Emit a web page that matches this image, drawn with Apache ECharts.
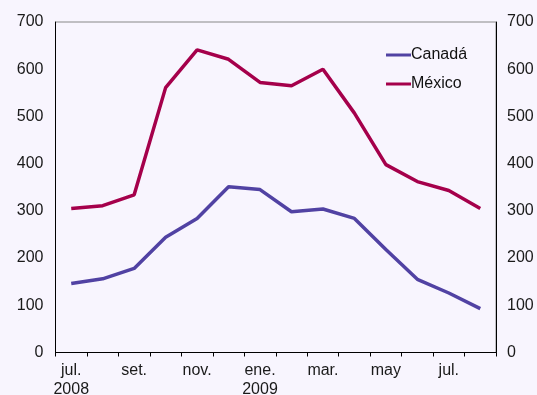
<!DOCTYPE html>
<html><head><meta charset="utf-8">
<script src="https://cdn.jsdelivr.net/npm/echarts@6/dist/echarts.min.js"></script>
<style>html,body{margin:0;padding:0;background:#F8F5FE;}#c{width:537px;height:395px;}</style>
</head><body><div id="c"></div>
<script>
const categories = ['jul.\n2008','ago.','set.','oct.','nov.','dic.','ene.\n2009','feb.','mar.','abr.','may','jun.','jul.','ago.'];
const canada = [146, 156, 178, 244, 284, 351, 345, 298, 304, 284, 218, 155, 126, 93];
const mexico = [305, 311, 334, 561, 641, 621, 572, 565, 600, 507, 398, 362, 343, 305];
const yTicks = [0, 100, 200, 300, 400, 500, 600, 700];

const font = 'Liberation Sans, Arial, sans-serif';
const chart = echarts.init(document.getElementById('c'), null, {renderer:'canvas'});
const yAxisBase = {
  type:'value', min:yTicks[0], max:yTicks[yTicks.length-1], interval:100,
  axisLine:{show:true, lineStyle:{color:'#000', width:1}},
  axisTick:{show:false}, splitLine:{show:false},
  axisLabel:{color:'#1a1a1a', fontSize:16, fontFamily:font}
};
chart.setOption({
  backgroundColor:'#F8F5FE',
  animation:false,
  grid:{left:55.5, right:41, top:22, bottom:42.5, containLabel:false, outerBoundsMode:'none', show:true, borderColor:'#888', borderWidth:1, backgroundColor:'transparent'},
  legend:{
    orient:'vertical', left:381, top:42, itemWidth:25, itemHeight:16, itemGap:13,
    icon:'path://M0,6.5 L25,6.5 L25,9.5 L0,9.5 Z',
    textStyle:{fontSize:16, color:'#111', fontFamily:font, padding:[0,0,0,-5]},
    data:['Canadá','México']
  },
  xAxis:{
    type:'category', data:categories, boundaryGap:true,
    axisLine:{lineStyle:{color:'#000', width:1}},
    axisTick:{show:true, length:4, interval:0, lineStyle:{color:'#000'}},
    axisLabel:{interval:1, color:'#1a1a1a', fontSize:16, fontFamily:font, lineHeight:19, margin:9}
  },
  yAxis:[
    Object.assign({}, yAxisBase, {position:'left', axisLabel:Object.assign({}, yAxisBase.axisLabel, {margin:12})}),
    Object.assign({}, yAxisBase, {position:'right', axisLabel:Object.assign({}, yAxisBase.axisLabel, {margin:11})})
  ],
  series:[
    {name:'Canadá', type:'line', data:canada, symbol:'none', lineStyle:{color:'#5142A3', width:3.5}, itemStyle:{color:'#5142A3'}},
    {name:'México', type:'line', data:mexico, symbol:'none', lineStyle:{color:'#A5004B', width:3.5}, itemStyle:{color:'#A5004B'}}
  ]
});
</script></body></html>
